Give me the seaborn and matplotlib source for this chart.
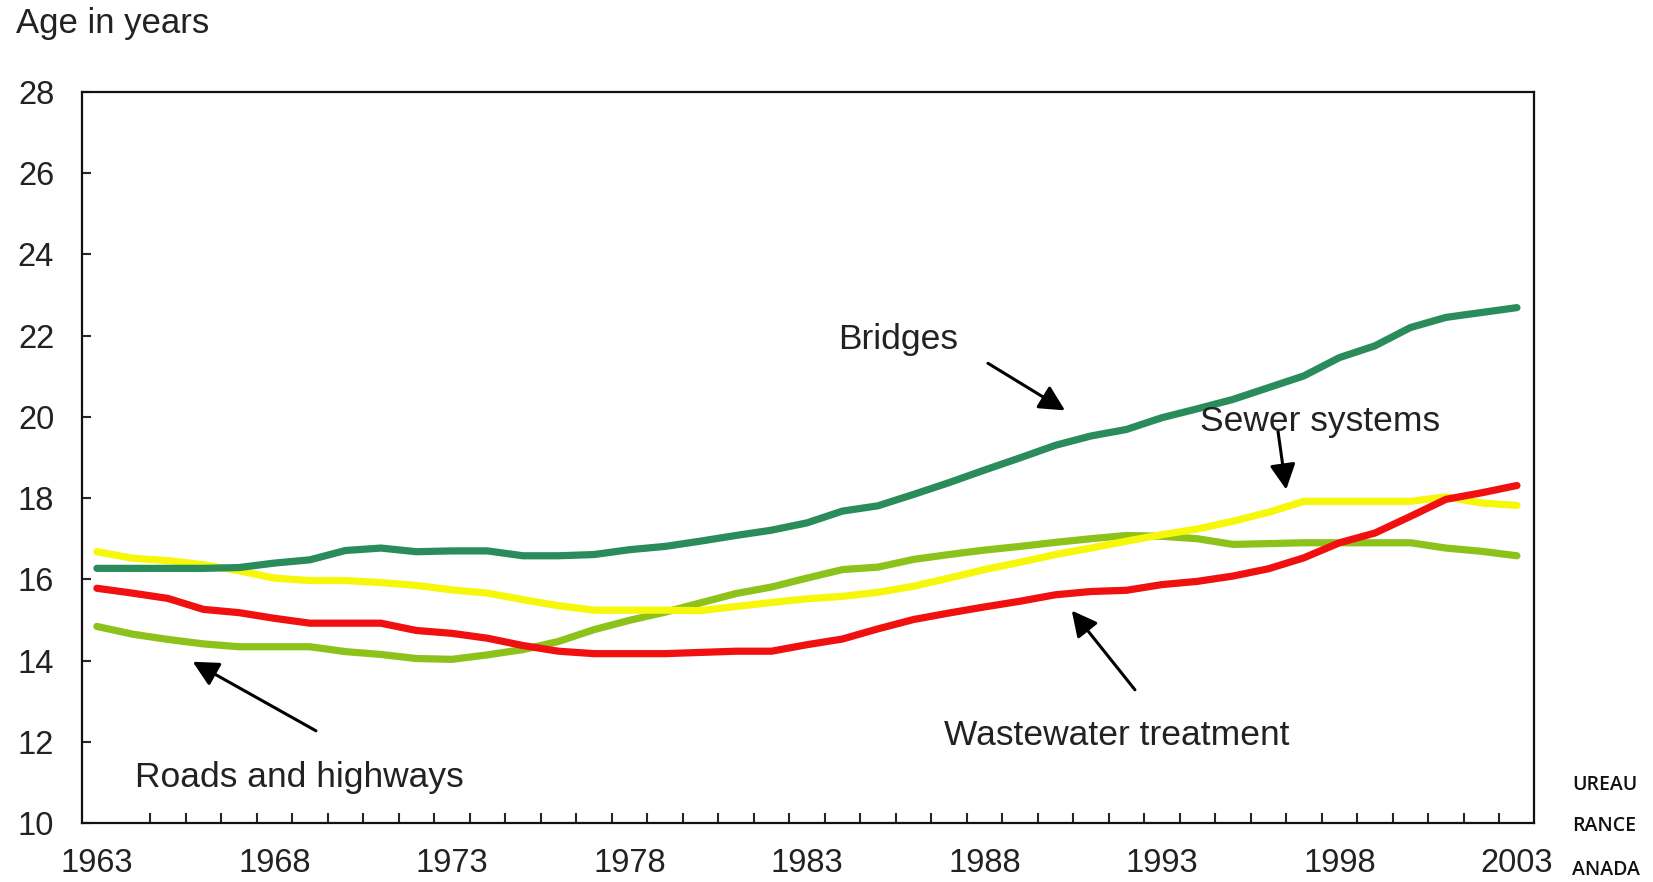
import numpy as np
import pandas as pd
import seaborn as sns
import matplotlib.pyplot as plt

# data (age in years, 1963-2003)
years = list(range(1963, 2004))

bridges = [16.27, 16.27, 16.27, 16.27, 16.29, 16.40, 16.48, 16.71, 16.77, 16.68, 16.70, 16.70,
           16.58, 16.58, 16.61, 16.73, 16.81, 16.94, 17.08, 17.21, 17.39, 17.68,
           17.81, 18.09, 18.38, 18.69, 18.99, 19.30, 19.53, 19.69, 19.98, 20.20, 20.43, 20.72,
           21.01, 21.46, 21.75, 22.20, 22.45, 22.57, 22.69]

sewer = [16.68, 16.52, 16.46, 16.36, 16.21, 16.03, 15.97, 15.97, 15.92, 15.85, 15.74, 15.66,
         15.50, 15.35, 15.24, 15.24, 15.24, 15.23, 15.33, 15.43, 15.52, 15.58,
         15.68, 15.83, 16.03, 16.24, 16.42, 16.61, 16.77, 16.94, 17.10, 17.24, 17.43, 17.65,
         17.92, 17.92, 17.92, 17.92, 18.03, 17.88, 17.82]

wastewater = [15.78, 15.66, 15.53, 15.26, 15.18, 15.04, 14.92, 14.92, 14.92, 14.74, 14.67, 14.55,
              14.37, 14.23, 14.17, 14.17, 14.17, 14.20, 14.23, 14.23, 14.39, 14.53,
              14.78, 15.01, 15.17, 15.32, 15.46, 15.62, 15.70, 15.73, 15.87, 15.95, 16.08, 16.26,
              16.53, 16.90, 17.14, 17.55, 17.97, 18.13, 18.31]

roads = [14.84, 14.65, 14.52, 14.41, 14.34, 14.34, 14.34, 14.22, 14.15, 14.05, 14.03, 14.14,
         14.27, 14.47, 14.76, 14.99, 15.19, 15.42, 15.65, 15.81, 16.03, 16.24,
         16.30, 16.49, 16.61, 16.72, 16.81, 16.91, 17.00, 17.08, 17.06, 17.00, 16.86, 16.88,
         16.90, 16.90, 16.90, 16.90, 16.77, 16.69, 16.58]

series_names = ["Roads and highways", "Sewer systems", "Wastewater treatment", "Bridges"]
colors = ["#8cc21a", "#f7f70a", "#f01010", "#2a8c5a"]
year_labels = [1963, 1968, 1973, 1978, 1983, 1988, 1993, 1998, 2003]
y_ticks = [10, 12, 14, 16, 18, 20, 22, 24, 26, 28]

tabela = pd.DataFrame({
    "year": years * 4,
    "age": roads + sewer + wastewater + bridges,
    "series": sum([[n] * len(years) for n in series_names], []),
})

sns.set_style("white")
plt.rcParams['font.family'] = ['Liberation Sans', 'DejaVu Sans']
txt = "#222222"

fig = plt.figure(figsize=(16.53, 8.82), dpi=100)
ax = fig.add_axes([0.0496, 0.0669, 0.8784, 0.8288])

sns.lineplot(data=tabela, x="year", y="age", hue="series", hue_order=series_names,
             palette=colors, linewidth=5.2, legend=False, ax=ax,
             solid_joinstyle='round', solid_capstyle='round')

ax.set_xlim(1962.58, 2003.48)
ax.set_ylim(10, 28)
ax.set_xlabel("")
ax.set_ylabel("")

ax.set_yticks(y_ticks)
ax.set_xticks(year_labels)
ax.set_xticks(np.arange(1964.5, 2003, 1), minor=True)
ax.tick_params(axis='y', direction='in', length=6.5, width=1.5, pad=20,
               labelsize=23.5, labelcolor=txt, left=True)
ax.tick_params(axis='x', which='major', length=0, pad=18, labelsize=23.5, labelcolor=txt)
ax.tick_params(axis='x', which='minor', direction='in', length=7, width=1.5, bottom=True)

for s in ax.spines.values():
    s.set_visible(True)
    s.set_color("#111111")
    s.set_linewidth(1.6)

# annotations
arrow = dict(arrowstyle='-|>,head_length=0.55,head_width=0.28', color='black', lw=2.2,
             mutation_scale=28, shrinkA=0, shrinkB=0)
ax.annotate("", xy=(1990.27, 20.16), xytext=(1988.1, 21.32), arrowprops=arrow)
ax.annotate("", xy=(1996.5, 18.21), xytext=(1996.27, 19.64), arrowprops=arrow)
ax.annotate("", xy=(1990.46, 15.23), xytext=(1992.24, 13.28), arrowprops=arrow)
ax.annotate("", xy=(1965.7, 13.97), xytext=(1969.17, 12.27), arrowprops=arrow)

fs = 25.5
ax.text(1983.87, 21.66, "Bridges", fontsize=fs, color=txt, ha='left', va='baseline')
ax.text(1994.07, 19.65, "Sewer systems", fontsize=fs, color=txt, ha='left', va='baseline')
ax.text(1986.86, 11.92, "Wastewater treatment", fontsize=fs, color=txt, ha='left', va='baseline')
ax.text(1964.07, 10.89, "Roads and highways", fontsize=fs, color=txt, ha='left', va='baseline')

fig.text(0.0097, 0.9626, "Age in years", fontsize=25, color=txt, ha='left', va='baseline')

# cut-off watermark at right edge
for yy, w in zip([0.1043, 0.0578, 0.0079], ["UREAU", "RANCE", "ANADA"]):
    fig.text(0.951, yy, w, fontsize=14, family=['Open Sans', 'DejaVu Sans'],
             weight='semibold', color="#111111", ha='left', va='baseline')

fig.savefig("out.png", dpi=100)
